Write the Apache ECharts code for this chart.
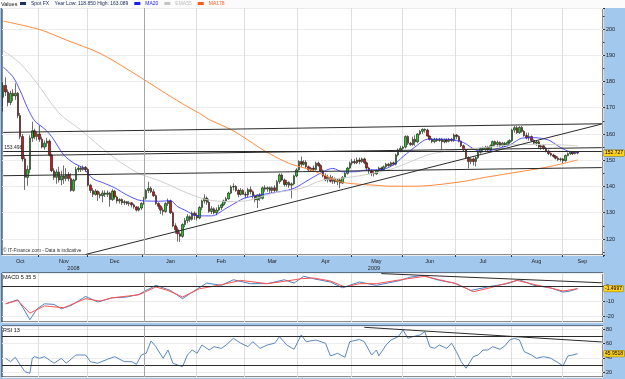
<!DOCTYPE html>
<html>
<head>
<meta charset="utf-8">
<script src="https://cdn.jsdelivr.net/npm/echarts@6/dist/echarts.min.js"></script>
<style>
html, body { margin: 0; padding: 0; background: #a3c8ee; }
#chart { width: 625px; height: 379px; }
</style>
</head>
<body>
<div id="chart"></div>
<script>
// Spot FX (GBP/JPY) daily candles: [open, close, low, high]
const candles = [
[174.0,178.5,168.5,180.0],[178.5,176.0,174.5,181.6],[176.0,172.0,170.5,177.0],[172.0,175.5,171.0,176.5],[175.5,174.5,172.5,177.0],
[174.5,175.5,173.0,179.3],[175.5,167.0,166.0,176.0],[167.0,159.0,158.0,168.0],[159.0,150.5,149.5,160.0],[150.5,143.5,138.7,151.5],
[143.5,146.5,140.3,148.0],[146.5,158.5,145.0,159.5],[158.5,161.2,157.0,164.7],[161.2,159.0,158.0,162.0],[159.0,160.0,157.5,161.0],
[160.0,158.0,157.0,163.3],[158.0,155.0,154.5,159.0],[155.0,156.5,154.0,157.5],[156.5,157.3,155.0,158.5],[157.3,152.0,151.5,158.0],
[152.0,146.0,145.5,152.5],[146.0,143.5,142.5,147.0],[143.5,145.5,141.0,146.5],[145.5,142.5,141.5,147.5],[142.5,144.0,140.5,146.0],
[144.0,143.0,141.0,148.0],[143.0,144.5,142.0,147.0],[144.5,143.0,142.0,145.5],[143.0,138.5,138.0,145.0],[138.5,142.5,138.0,143.0],
[142.5,146.5,142.0,147.5],[146.5,147.0,145.5,148.0],[147.0,146.5,145.5,147.8],[146.5,147.3,146.0,148.0],[147.3,146.5,145.5,147.8],
[146.5,140.5,140.0,147.0],[140.5,138.5,137.5,141.0],[138.5,137.0,136.0,139.5],[137.0,138.2,136.5,139.0],[138.2,137.0,134.5,138.5],
[137.0,136.5,135.5,138.0],[136.5,137.5,134.0,138.5],[137.5,137.0,136.0,138.5],[137.0,137.5,136.0,138.5],[137.5,135.0,132.3,138.0],
[135.0,138.2,134.5,139.0],[138.2,136.0,135.0,138.7],[136.0,134.5,133.5,136.5],[134.5,135.0,133.5,135.5],[135.0,133.8,133.0,135.5],
[133.8,134.2,133.0,134.8],[134.2,133.5,133.0,134.5],[133.5,133.8,132.5,134.5],[133.8,133.0,132.0,134.0],[133.0,132.2,131.5,133.5],
[132.2,131.0,130.5,132.5],[131.0,131.8,130.5,132.5],[131.8,133.5,131.0,134.0],[133.5,135.5,133.0,136.0],[135.5,138.5,135.0,139.0],
[138.5,139.3,137.5,141.8],[139.3,138.0,137.5,140.0],[138.0,136.5,136.0,139.0],[136.5,133.5,133.0,137.0],[133.5,132.5,131.5,134.0],
[132.5,131.0,129.5,133.0],[131.0,130.5,129.0,132.0],[130.5,133.5,130.0,134.0],[133.5,134.5,132.5,135.4],[134.5,130.0,129.5,135.0],
[130.0,125.0,124.5,130.5],[125.0,123.5,122.0,126.0],[123.5,122.0,119.0,124.5],[122.0,121.0,118.85,123.0],[121.0,125.5,120.5,126.0],
[125.5,127.0,124.5,128.0],[127.0,128.5,126.0,129.5],[128.5,127.5,126.5,129.0],[127.5,129.8,127.0,130.5],[129.8,129.0,127.3,130.5],
[129.0,128.0,127.0,130.0],[128.0,132.0,127.5,132.5],[132.0,134.5,131.0,135.0],[134.5,135.6,133.5,137.0],[135.6,134.0,133.0,136.2],
[134.0,130.5,130.0,135.3],[130.5,131.5,129.5,132.5],[131.5,130.0,129.4,132.0],[130.0,131.0,129.0,132.0],[131.0,132.0,130.5,133.0],
[132.0,133.0,131.0,133.5],[133.0,134.5,132.5,135.0],[134.5,135.3,133.5,136.0],[135.3,137.5,135.0,138.0],[137.5,139.8,137.0,140.5],
[139.8,140.0,138.5,141.2],[140.0,138.5,138.0,140.5],[138.5,137.0,136.0,139.0],[137.0,138.5,136.5,139.4],[138.5,137.0,136.8,139.0],
[137.0,136.8,135.5,138.0],[136.8,138.8,136.0,139.5],[138.8,138.0,137.0,140.0],[138.0,136.5,135.5,138.5],[136.5,134.9,134.0,137.0],
[134.9,136.8,131.8,137.0],[136.8,135.5,134.5,137.5],[135.5,139.5,135.0,140.0],[139.5,139.0,138.0,140.5],[139.0,139.5,138.0,140.0],
[139.5,138.5,137.5,140.0],[138.5,139.5,137.5,140.0],[139.5,138.5,137.5,140.5],[138.5,141.8,138.0,142.5],[141.8,144.4,141.0,145.0],
[144.4,142.5,142.0,145.0],[142.5,140.8,140.0,143.0],[140.8,141.5,140.0,142.5],[141.5,140.5,139.5,142.0],[140.5,141.0,135.5,141.5],
[141.0,144.0,140.5,144.5],[144.0,146.3,143.5,147.0],[146.3,149.5,146.0,150.0],[149.5,148.5,147.5,151.4],[148.5,149.2,148.0,150.0],
[149.2,147.5,147.0,150.0],[147.5,146.3,145.5,148.0],[146.3,147.0,145.8,147.5],[147.0,146.5,145.5,148.0],[146.5,148.9,146.0,149.5],
[148.9,148.0,147.5,149.5],[148.0,146.0,145.5,148.5],[146.0,144.0,143.5,146.5],[144.0,142.5,142.0,145.0],[142.5,143.5,141.5,144.5],
[143.5,142.0,141.5,144.4],[142.0,143.0,141.0,144.0],[143.0,141.8,141.0,143.5],[141.8,142.5,140.5,143.0],[142.5,141.3,139.3,143.0],
[141.3,143.5,141.0,144.0],[143.5,145.0,143.0,145.5],[145.0,147.0,144.5,147.5],[147.0,148.9,146.5,149.5],[148.9,149.5,148.0,150.5],
[149.5,149.0,148.5,150.5],[149.0,150.1,148.5,151.0],[150.1,149.5,148.5,151.0],[149.5,150.5,149.0,151.0],[150.5,149.0,148.5,151.0],
[149.0,147.0,146.0,149.5],[147.0,145.9,144.7,147.5],[145.9,145.0,144.0,146.5],[145.0,144.8,143.8,146.0],[144.8,146.0,144.5,146.5],
[146.0,147.0,145.5,147.5],[147.0,146.5,145.8,147.5],[146.5,147.5,146.0,148.0],[147.5,148.5,147.0,149.0],[148.5,148.0,147.5,149.0],
[148.0,149.0,147.5,149.5],[149.0,148.5,148.0,149.5],[148.5,152.0,148.0,152.5],[152.0,153.9,151.5,154.5],[153.9,154.5,153.0,155.5],
[154.5,155.0,154.0,155.5],[155.0,159.0,154.5,159.5],[159.0,156.5,155.8,159.5],[156.5,156.0,155.5,157.0],[156.0,158.0,155.5,159.0],
[158.0,157.0,155.5,159.5],[157.0,160.0,156.5,160.3],[160.0,161.0,159.5,161.5],[161.0,161.8,160.0,162.1],[161.8,161.5,160.5,162.1],
[161.5,159.2,159.0,162.0],[159.2,158.0,157.5,159.5],[158.0,157.1,156.5,158.5],[157.1,158.0,156.5,158.5],[158.0,157.5,157.0,158.5],
[157.5,158.0,157.0,158.5],[158.0,157.0,153.9,158.5],[157.0,157.8,156.5,158.3],[157.8,157.2,156.5,158.3],[157.2,158.0,156.8,158.5],
[158.0,157.5,157.0,158.5],[157.5,159.6,157.0,160.2],[159.6,159.0,158.0,160.0],[159.0,157.3,156.8,159.5],[157.3,155.5,155.0,157.5],
[155.5,153.9,153.5,156.0],[153.9,151.0,150.5,154.5],[151.0,149.5,146.9,151.5],[149.5,150.5,148.5,151.0],[150.5,149.5,148.0,151.0],
[149.5,151.0,147.6,151.5],[151.0,153.0,150.5,153.5],[153.0,154.5,152.5,155.0],[154.5,154.0,153.0,155.2],[154.0,155.0,153.5,155.5],
[155.0,154.0,153.3,155.5],[154.0,155.5,153.5,156.0],[155.5,157.1,155.0,157.5],[157.1,156.0,155.5,157.5],[156.0,156.8,155.0,157.5],
[156.8,155.5,155.0,157.2],[155.5,156.5,155.0,157.0],[156.5,155.8,155.0,157.0],[155.8,156.8,155.3,157.5],[156.8,157.5,156.0,158.0],
[157.5,161.5,157.0,162.0],[161.5,162.4,160.5,163.0],[162.4,160.5,160.0,163.09],[160.5,162.5,160.0,163.0],[162.5,161.0,160.5,163.0],
[161.0,159.4,159.0,161.5],[159.4,158.5,158.0,160.5],[158.5,159.0,157.5,160.5],[159.0,157.5,157.0,159.5],[157.5,156.5,156.0,158.0],
[156.5,157.0,155.5,157.5],[157.0,155.0,154.5,157.5],[155.0,155.5,154.0,156.0],[155.5,154.5,154.0,156.0],[154.5,153.5,153.0,155.0],
[153.5,152.6,152.0,154.0],[152.6,152.0,151.5,153.0],[152.0,151.5,151.0,152.5],[151.5,150.8,150.3,152.0],[150.8,150.3,149.8,151.5],
[150.3,150.5,149.5,151.0],[150.5,149.8,148.8,150.9],[149.8,151.8,149.5,152.2],[151.8,152.5,151.5,153.0],[152.5,153.2,152.0,153.5],
[153.2,152.5,152.0,153.5],[152.5,153.0,152.2,153.5],[153.0,152.727,152.3,153.3]
];

// moving averages, [day index, value]
const ma20 = [[0,185.5],[4,181.8],[7,176.5],[10,170],[13,165],[17,162],[20,159],[25,152],[29,149],[33,147],[37,143],[41,141.5],[46,139.5],[51,136.8],[57,134.6],[65,134.4],[69,134.6],[72,132.3],[75,131],[80,128.8],[86,128.8],[92,131.7],[98,134.9],[100,135.7],[106,136.8],[114,138],[120,139.3],[126,142.5],[132,145.6],[136,146.9],[140,145.6],[145,145.6],[150,146.3],[156,146.4],[161,148.2],[165,151.4],[171,155.8],[175,158],[182,158],[186,157.7],[190,156.7],[195,153.9],[199,153.3],[203,154.2],[209,155.8],[214,158.4],[219,158.6],[225,157.7],[229,155.4],[233,153.5],[237,153]];
const ema55 = [[0,191.7],[7,186.9],[15,178],[23,168],[32,161.5],[40,155.2],[48,149.5],[56,145],[65,142],[76,137.5],[84,135],[92,134.3],[100,134.5],[111,137.4],[123,139.3],[132,142.5],[139,143.1],[149,144.4],[161,146.9],[175,152],[182,153.3],[190,154.2],[200,155],[213,156],[225,156],[237,155.5]];
const ma178 = [[0,203],[15,199.8],[26,195.8],[40,190.7],[54,183.1],[67,175.5],[76,170.4],[81,167.9],[85,165.5],[95,161.2],[108,153.5],[118,148.8],[127,146.3],[134,143.7],[139,141.8],[145,141],[153,140.5],[160,140.1],[167,140.1],[175,140.3],[189,141.8],[199,143.5],[213,145.6],[225,147.5],[237,150.1]];

// MACD 5 35 5
const macdLine = [[1,-11.6],[6,-8.9],[8,-13.8],[11,-22.2],[14,-14.9],[17,-11.6],[21,-12],[24,-14.9],[28,-12.7],[34,-6.7],[39,-10.4],[45,-7.6],[51,-7.1],[56,-5.3],[63,0.7],[69,-2.7],[74,-8.2],[78,-3.8],[84,2.2],[90,0.7],[95,4.4],[102,1.8],[109,1.8],[116,4.4],[120,2.2],[124,6.7],[128,5.1],[135,2.9],[140,-0.9],[147,2.9],[154,0.7],[164,4],[168,6.2],[173,7.3],[180,4],[186,2.2],[193,-2.7],[201,0],[208,1.8],[213,4.4],[219,0.7],[226,-1.1],[231,-3.8],[234,-3.1],[237,-1.4997]];
const macdSignal = [[1,-11.6],[6,-9.3],[11,-17.8],[17,-13],[25,-14.2],[34,-8.2],[40,-9.8],[45,-7.6],[56,-5.6],[63,-0.4],[68,-2.7],[74,-7.1],[81,-1.6],[90,1.1],[98,4],[109,1.8],[117,3.6],[123,5.1],[128,5.6],[135,3.6],[141,-0.4],[147,1.8],[154,1.8],[164,4.4],[174,6.7],[180,4.4],[187,1.8],[194,-3.6],[201,-0.9],[212,4],[219,1.3],[226,-1.1],[231,-3.1],[237,-1.5]];

// RSI 13
const rsi13 = [[1,39.5],[3,34.8],[5,40.9],[7,30.2],[9,20.8],[11,18.6],[12,39.5],[13,41.8],[15,39.5],[17,41.8],[19,37.2],[21,32.6],[24,39.5],[26,32.6],[30,44.1],[34,44.1],[36,34.8],[39,32.6],[43,38.1],[46,41.8],[50,34.8],[53,34.8],[55,31.2],[57,44.1],[59,46.5],[61,63.7],[63,55.7],[66,39.5],[68,51.1],[70,32.6],[74,27.8],[76,44.1],[78,51.1],[80,46.5],[82,58.1],[85,51.1],[87,55.7],[90,53.3],[92,58.1],[95,67.4],[98,60.6],[101,55.7],[103,62.7],[106,53.3],[109,58.1],[112,60.6],[114,69.7],[117,58.1],[120,52.1],[123,72.1],[125,62.7],[129,65],[133,60.5],[135,42.8],[138,46.5],[141,40.9],[143,62.7],[147,65.8],[149,62.7],[152,44.1],[154,51.1],[155,42.8],[158,58.1],[160,65],[163,69.7],[165,79],[167,67.4],[169,69.7],[172,72.1],[174,76.7],[176,55.7],[178,53.3],[180,58.1],[183,53.3],[185,60.6],[187,48.8],[189,34.8],[191,25.6],[194,41.8],[196,44.1],[198,51.1],[200,51.1],[202,55.7],[205,52.1],[207,56.9],[209,65.1],[211,67.4],[213,65.1],[215,48.8],[218,44.1],[220,39.5],[223,41.8],[226,39.5],[229,33.4],[231,28.8],[233,42.8],[235,44.1],[237,45.9518]];

// hand-drawn trend lines, [[index, value], [index, value]]
const mainTrends = [
  [[0,160.6],[247,163.9]],
  [[34,114.1],[247,163.8]],
  [[0,151.7],[247,154.8]],
  [[0,144.1],[247,147.2]]
];
const levelLine = 153.498;
const macdTrends = [[[156,8.5],[247,2.4]]];
const rsiTrends = [[[149,82.8],[247,62.3]]];
const rsiLevels = [70, 30];

const yearLow = '118.850', yearHigh = '163.089';
const monthNames = ['Jan','Feb','Mar','Apr','May','Jun','Jul','Aug','Sep','Oct','Nov','Dec'];

// weekday calendar for the x axis, with some room after the last candle
const dates = [];
(function () {
  const d = new Date('2008-10-13T00:00:00Z');
  while (dates.length < 248) {
    const wd = d.getUTCDay();
    if (wd !== 0 && wd !== 6) dates.push(d.toISOString().slice(0, 10));
    d.setUTCDate(d.getUTCDate() + 1);
  }
})();

const monthStarts = [];
dates.forEach((d, i) => { if (i > 0 && d.slice(5, 7) !== dates[i - 1].slice(5, 7)) monthStarts.push(i); });
const monthLabelAt = {};
const bounds = [0].concat(monthStarts, [dates.length]);
for (let k = 0; k < bounds.length - 1; k++) {
  monthLabelAt[Math.floor((bounds[k] + bounds[k + 1]) / 2)] = monthNames[+dates[bounds[k]].slice(5, 7) - 1];
}
const yearStart = dates.findIndex(d => d.startsWith('2009'));
const yearLabelAt = {};
yearLabelAt[Math.floor(yearStart / 2)] = '2008';
yearLabelAt[Math.floor((yearStart + dates.length) / 2)] = '2009';
const isMonthStart = (idx) => idx !== yearStart && monthStarts.indexOf(idx) >= 0;
const isTick = (idx) => monthStarts.indexOf(idx) >= 0;

const FONT = 'Liberation Sans';
const HIDDEN = { color: 'rgba(0,0,0,0)', width: 0 };
const tagLabel = (text) => ({
  show: true, position: 'end', distance: 1, formatter: text,
  fontSize: 5, fontFamily: FONT, color: '#000',
  backgroundColor: '#ffd21a', borderColor: '#8a7400', borderWidth: 0.5, padding: [1, 1, 0, 1]
});
const trendItems = (list) => list.map(p => [{ coord: p[0] }, { coord: p[1] }]);
const janLine = { xAxis: dates[yearStart], lineStyle: { color: '#a8a8a8', width: 1 } };

const lastClose = candles[candles.length - 1][1];
const lastMacd = macdLine[macdLine.length - 1][1];
const lastRsi = rsi13[rsi13.length - 1][1];

const grids = [
  { left: 2, right: 22, top: 8, height: 247 },
  { left: 2, right: 22, top: 273, height: 49 },
  { left: 2, right: 22, top: 326, height: 51 }
].map(g => Object.assign(g, { show: true, backgroundColor: '#fff', borderColor: '#1a1a1a', borderWidth: 1 }));

const panelX = (gridIndex) => ({
  type: 'category', gridIndex, data: dates, boundaryGap: true,
  axisLine: { show: false }, axisTick: { show: false }, axisLabel: { show: false },
  splitLine: { show: true, interval: isMonthStart, lineStyle: { color: '#dedede', width: 1 } }
});
const panelY = (gridIndex, min, max, splitNumber) => ({
  type: 'value', gridIndex, position: 'right', min, max, splitNumber,
  axisLine: { show: false },
  axisTick: { show: true, length: 2, lineStyle: { color: '#333' } },
  axisLabel: { fontSize: 5.5, fontFamily: FONT, color: '#222', margin: 3, showMinLabel: false, showMaxLabel: false },
  splitLine: { show: true, lineStyle: { color: '#ececec' } }
});

const mainY = panelY(0, 113.9, 208, 9);
mainY.minorTick = { show: true, splitNumber: 2, length: 1.5, lineStyle: { color: '#333' } };

const chart = echarts.init(document.getElementById('chart'));
chart.setOption({
  animation: false,
  backgroundColor: '#a3c8ee',
  textStyle: { fontFamily: FONT },
  graphic: [{ type: 'rect', left: 0, top: 0, z: 0, shape: { width: 625, height: 8 }, style: { fill: '#fbfbfb' } }],
  title: [
    { text: 'Values', left: 1, top: 1, padding: 0, textStyle: { fontSize: 5.5, fontWeight: 'normal', color: '#111' } },
    { text: '\u00a9 IT-Finance.com - Data is indicative', left: 3, top: 248, padding: 0, textStyle: { fontSize: 4.8, fontWeight: 'normal', color: '#333' } },
    { text: 'MACD 5 35 5', left: 3, top: 274, padding: 0, textStyle: { fontSize: 5.5, fontWeight: 'normal', color: '#111' } },
    { text: 'RSI 13', left: 3, top: 327, padding: 0, textStyle: { fontSize: 5.5, fontWeight: 'normal', color: '#111' } }
  ],
  legend: {
    left: 20, top: 1, padding: 0, itemGap: 6, itemWidth: 6, itemHeight: 3,
    selectedMode: false,
    textStyle: { fontSize: 5, fontFamily: FONT },
    formatter: (name) => name === 'Spot FX' ? 'Spot FX    Year Low: ' + yearLow + ' High: ' + yearHigh : name,
    data: [
      { name: 'Spot FX', icon: 'rect', itemStyle: { color: '#1d2f63', borderWidth: 0 }, textStyle: { color: '#1d2f63' } },
      { name: 'MA20', icon: 'rect', itemStyle: { color: '#1a1aff' }, textStyle: { color: '#1a1aff' } },
      { name: 'EMA55', icon: 'rect', itemStyle: { color: '#c4c4c4' }, textStyle: { color: '#bdbdbd' } },
      { name: 'MA178', icon: 'rect', itemStyle: { color: '#ff5a1e' }, textStyle: { color: '#ff5a1e' } }
    ]
  },
  grid: grids,
  xAxis: [
    {
      type: 'category', gridIndex: 0, data: dates, boundaryGap: true,
      axisLine: { show: false },
      axisTick: { show: true, interval: isTick, length: 2, lineStyle: { color: '#333' } },
      axisLabel: {
        interval: (idx) => monthLabelAt[idx] !== undefined,
        formatter: (v, idx) => monthLabelAt[idx] || '',
        fontSize: 5.5, color: '#222', margin: 3
      },
      splitLine: { show: true, interval: isMonthStart, lineStyle: { color: '#dedede', width: 1 } }
    },
    {
      type: 'category', gridIndex: 0, data: dates, boundaryGap: true, position: 'bottom', offset: 7,
      axisLine: { show: false }, axisTick: { show: false }, splitLine: { show: false },
      axisLabel: {
        interval: (idx) => yearLabelAt[idx] !== undefined,
        formatter: (v, idx) => yearLabelAt[idx] || '',
        fontSize: 5.5, color: '#222', margin: 3
      }
    },
    panelX(1),
    panelX(2)
  ],
  yAxis: [mainY, panelY(1, -23.7, 8.9, 3), panelY(2, 13.4, 84.6, 4)],
  series: [
    {
      name: 'Spot FX', type: 'candlestick', xAxisIndex: 0, yAxisIndex: 0,
      data: candles, barWidth: 2,
      itemStyle: { color: '#22cc22', color0: '#d41414', borderColor: '#111', borderColor0: '#111', borderWidth: 0.6 }
    },
    {
      name: 'MA20', type: 'line', xAxisIndex: 0, yAxisIndex: 0, data: ma20, clip: false,
      symbol: 'none', smooth: 0.3, lineStyle: { color: '#2a2aff', width: 0.8 },
      markLine: {
        silent: true, symbol: ['none', 'none'], animation: false,
        label: { show: false }, lineStyle: HIDDEN,
        data: [{ yAxis: lastClose, lineStyle: HIDDEN, label: tagLabel(String(lastClose)) }]
      }
    },
    {
      name: 'EMA55', type: 'line', xAxisIndex: 0, yAxisIndex: 0, data: ema55, clip: false,
      symbol: 'none', smooth: 0.3, lineStyle: { color: '#cfcfcf', width: 1 }
    },
    {
      name: 'MA178', type: 'line', xAxisIndex: 0, yAxisIndex: 0, data: ma178, clip: false,
      symbol: 'none', smooth: 0.3, lineStyle: { color: '#ff8a3c', width: 1 },
      markLine: {
        silent: true, symbol: ['none', 'none'], animation: false,
        label: { show: false }, lineStyle: { color: '#2b2b2b', width: 1, type: 'solid' },
        data: trendItems(mainTrends).concat([
          [{ coord: [0, levelLine], label: { show: true, position: 'insideStartTop', distance: 1, formatter: String(levelLine), fontSize: 5, color: '#222' } },
           { coord: [247, levelLine] }],
          janLine
        ])
      }
    },
    {
      name: 'MACD', type: 'line', xAxisIndex: 2, yAxisIndex: 1, data: macdLine, clip: false,
      symbol: 'none', lineStyle: { color: '#4f7fc0', width: 1 },
      markLine: {
        silent: true, symbol: ['none', 'none'], animation: false,
        label: { show: false }, lineStyle: { color: '#2b2b2b', width: 1, type: 'solid' },
        data: trendItems(macdTrends).concat([
          { yAxis: 0 },
          janLine,
          { yAxis: lastMacd, lineStyle: HIDDEN, label: tagLabel(String(lastMacd)) }
        ])
      }
    },
    {
      name: 'Signal', type: 'line', xAxisIndex: 2, yAxisIndex: 1, data: macdSignal, clip: false,
      symbol: 'none', lineStyle: { color: '#ff5252', width: 1 }
    },
    {
      name: 'RSI', type: 'line', xAxisIndex: 3, yAxisIndex: 2, data: rsi13, clip: false,
      symbol: 'none', lineStyle: { color: '#5a87c4', width: 1 },
      markLine: {
        silent: true, symbol: ['none', 'none'], animation: false,
        label: { show: false }, lineStyle: { color: '#2b2b2b', width: 1, type: 'solid' },
        data: trendItems(rsiTrends).concat(
          rsiLevels.map(v => ({ yAxis: v })),
          [janLine, { yAxis: lastRsi, lineStyle: HIDDEN, label: tagLabel(String(lastRsi)) }]
        )
      }
    }
  ]
});
</script>
</body>
</html>
